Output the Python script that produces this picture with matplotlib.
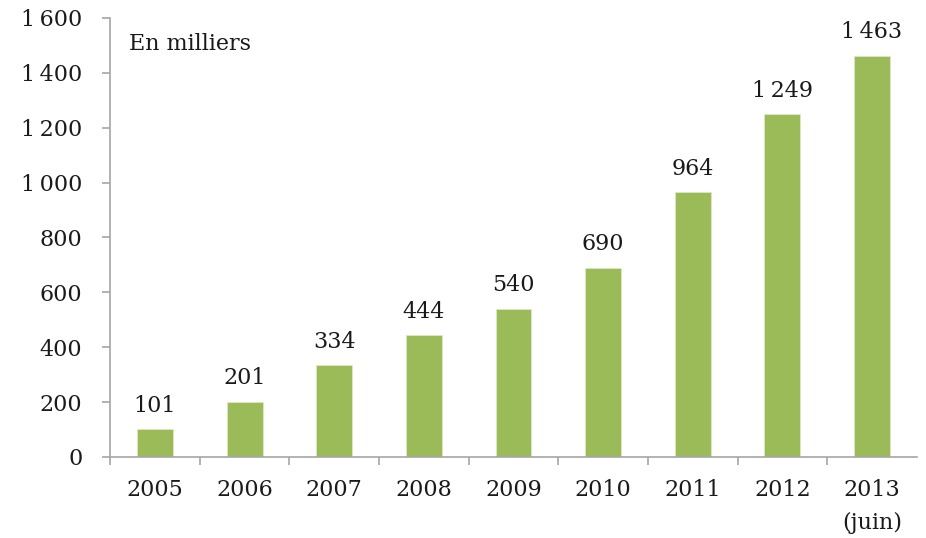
import matplotlib.pyplot as plt
import numpy as np

# data (thousands)
years = ["2005", "2006", "2007", "2008", "2009", "2010", "2011", "2012", "2013\n(juin)"]
values = [101, 201, 334, 444, 540, 690, 964, 1249, 1463]
yticks = [0, 200, 400, 600, 800, 1000, 1200, 1400, 1600]

def fr(v):
    # French thousands separator
    s = f"{v:,}".replace(",", "\u2009")
    return s

plt.rcParams['font.family'] = ['DejaVu Serif']
axis_col = '#a6a6a6'

fig = plt.figure(figsize=(9.26, 5.38), dpi=100)
ax = fig.add_axes([0.119, 0.1506, 0.871, 0.816])

x = np.arange(len(years))
ax.bar(x, values, width=0.4, color='#9BBB59', edgecolor='#dde8c4', linewidth=0.6, zorder=2)

for xi, v in zip(x, values):
    ax.text(xi, v + 45, fr(v), ha='center', va='bottom', fontsize=16, color='#1a1a1a')

ax.set_xlim(-0.5, len(years) - 0.5)
ax.set_ylim(0, 1600)
ax.set_yticks(yticks)
ax.set_yticklabels([fr(t) for t in yticks])
ax.set_xticks(x)
ax.set_xticklabels(years, linespacing=1.6)
ax.set_xticks(np.arange(-0.5, len(years) - 1), minor=True)

for s in ['top', 'right']:
    ax.spines[s].set_visible(False)
for s in ['left', 'bottom']:
    ax.spines[s].set_color(axis_col)
    ax.spines[s].set_linewidth(1.2)

ax.tick_params(axis='y', direction='out', length=6, color=axis_col, width=1.2,
               labelsize=16, labelcolor='#1a1a1a', pad=14)
ax.tick_params(axis='x', which='major', length=0, labelsize=16, labelcolor='#1a1a1a', pad=16)
ax.tick_params(axis='x', which='minor', direction='out', length=6, color=axis_col, width=1.2)

ax.text(0.023, 0.965, "En milliers", transform=ax.transAxes, fontsize=16,
        ha='left', va='top', color='#1a1a1a')

fig.savefig('out.png', dpi=100)
